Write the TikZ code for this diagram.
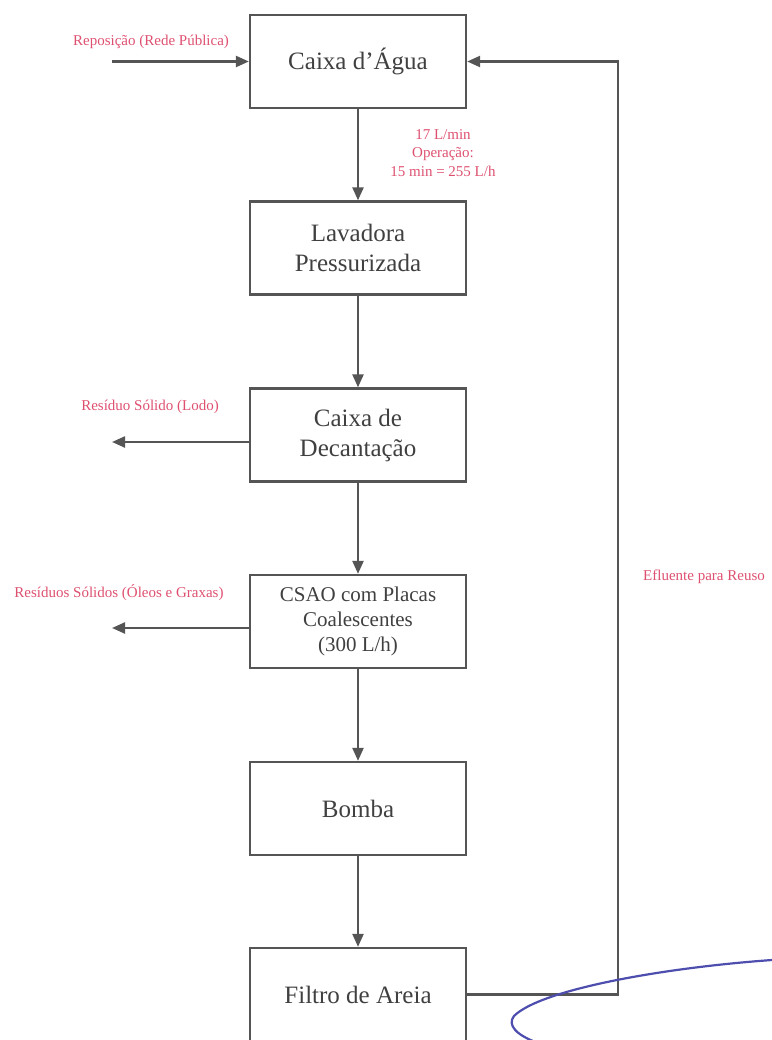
\documentclass[tikz,border=0pt]{standalone}
\usepackage{fontspec}
\setmainfont{Liberation Serif}
\usetikzlibrary{arrows.meta}
\definecolor{lab}{RGB}{222,80,112}
\definecolor{ln}{RGB}{85,85,85}
\definecolor{pen}{RGB}{78,78,175}
\begin{document}
\begin{tikzpicture}[x=1pt,y=-1pt,
  box/.style={draw=ln,line width=2.3pt,minimum width=216pt,minimum height=93pt,inner sep=0pt,align=center,font=\fontsize{25}{30}\selectfont,text=black!75},
  smallbox/.style={box,font=\fontsize{21}{25}\selectfont},
  flow/.style={draw=ln,line width=2.3pt,-{Triangle[length=13pt,width=11pt]}},
  lbl/.style={text=lab,font=\fontsize{15}{18.5}\selectfont,align=center,inner sep=0pt},
  penline/.style={draw=pen,line width=2.2pt,line cap=round}]
\useasboundingbox (0,0) rectangle (771,1040);
\node[box] (b1) at (358,61.5) {Caixa d’Água};
\node[box] (b2) at (358,248) {Lavadora\\Pressurizada};
\node[box] (b3) at (358,435) {Caixa de\\Decantação};
\node[smallbox] (b4) at (358,621.5) {CSAO com Placas\\Coalescentes\\(300 L/h)};
\node[box] (b5) at (358,808.5) {Bomba};
\node[box] (b6) at (358,994.5) {Filtro de Areia};
\draw[flow] (b1) -- (b2);
\draw[flow] (b2) -- (b3);
\draw[flow] (b3) -- (b4);
\draw[flow] (b4) -- (b5);
\draw[flow] (b5) -- (b6);
\coordinate (rin) at (112,61.5);
\draw[flow] (rin) -- (b1.west);
\node[lbl] (lrep) at (151,42) {Reposição (Rede Pública)};
\node[lbl] (lflow) at (443,153) {17 L/min\\Operação:\\15 min = 255 L/h};
\coordinate (o3) at (112,442);
\draw[flow] (b3.west |- o3) -- (o3);
\node[lbl] (llodo) at (150,407) {Resíduo Sólido (Lodo)};
\coordinate (o4) at (112,628);
\draw[flow] (b4.west |- o4) -- (o4);
\node[lbl] (loleo) at (119,593) {Resíduos Sólidos (Óleos e Graxas)};
\coordinate (c1) at (618,994.5);
\coordinate (c2) at (618,61.5);
\draw[flow] (b6.east) -- (c1) -- (c2) -- (b1.east);
\node[lbl] (lreuso) at (704,577) {Efluente para Reuso};
\draw[penline] (772,960) .. controls (660,968) and (540,990) .. (514,1016) .. controls (507,1025) and (516,1035) .. (538,1043);
\end{tikzpicture}
\end{document}
